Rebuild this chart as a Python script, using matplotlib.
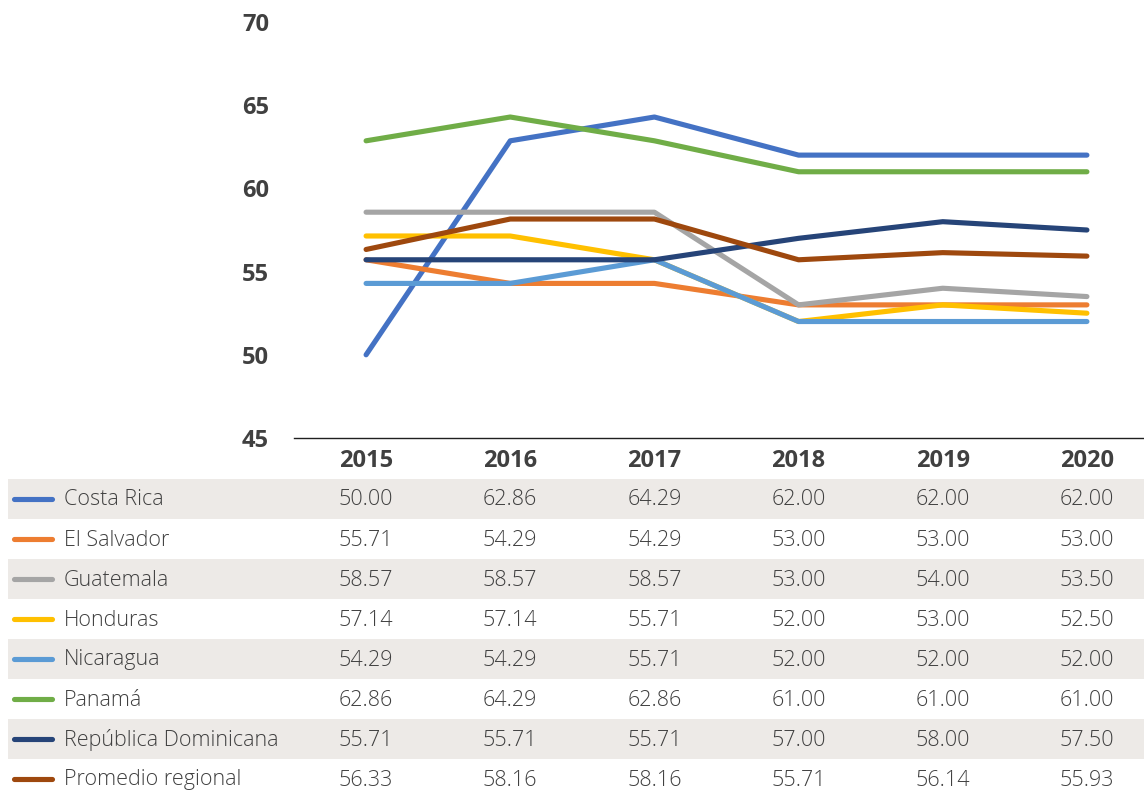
import matplotlib
matplotlib.use("Agg")
import matplotlib.pyplot as plt
from matplotlib.lines import Line2D
from matplotlib.patches import Rectangle
import matplotlib.transforms as mtransforms

plt.rcParams['font.family'] = ['Open Sans', 'DejaVu Sans']

years = ["2015", "2016", "2017", "2018", "2019", "2020"]
countries = ["Costa Rica", "El Salvador", "Guatemala", "Honduras", "Nicaragua",
             "Panamá", "República Dominicana", "Promedio regional"]
costa_rica = [50.00, 62.86, 64.29, 62.00, 62.00, 62.00]
el_salvador = [55.71, 54.29, 54.29, 53.00, 53.00, 53.00]
guatemala = [58.57, 58.57, 58.57, 53.00, 54.00, 53.50]
honduras = [57.14, 57.14, 55.71, 52.00, 53.00, 52.50]
nicaragua = [54.29, 54.29, 55.71, 52.00, 52.00, 52.00]
panama = [62.86, 64.29, 62.86, 61.00, 61.00, 61.00]
rep_dominicana = [55.71, 55.71, 55.71, 57.00, 58.00, 57.50]
promedio = [56.33, 58.16, 58.16, 55.71, 56.14, 55.93]
series = [costa_rica, el_salvador, guatemala, honduras, nicaragua,
          panama, rep_dominicana, promedio]
colors = ["#4472C4", "#ED7D31", "#A5A5A5", "#FFC000", "#5B9BD5",
          "#70AD47", "#264478", "#9E480E"]
yticks = [45, 50, 55, 60, 65, 70]

W, H = 1144, 807
fig = plt.figure(figsize=(W / 100, H / 100), dpi=100)
ax = fig.add_axes([294 / W, 1 - 438 / H, 865 / W, 416 / H])

x = list(range(len(years)))
for vals, c in zip(series, colors):
    ax.plot(x, vals, color=c, lw=3.7, solid_capstyle='round', solid_joinstyle='round')

ax.set_xlim(-0.5, len(years) - 0.5)
ax.set_ylim(45, 70)
ax.set_yticks(yticks)
ax.set_yticklabels([str(t) for t in yticks], fontsize=17, fontweight='bold', color='#404040')
ax.tick_params(axis='y', length=0, pad=18)
ax.set_xticks([])
for s in ['top', 'right', 'left']:
    ax.spines[s].set_visible(False)
ax.spines['bottom'].set_color('#202020')
ax.spines['bottom'].set_linewidth(1.0)
ax.patch.set_alpha(0)

# table
trans = mtransforms.blended_transform_factory(ax.transData, fig.transFigure)
def fy(px):
    return 1 - px / H

for i, yr in enumerate(years):
    fig.text(i, fy(461), yr, transform=trans, ha='center', va='center',
             fontsize=17, fontweight='bold', color='#404040')

row_h = 40
for r, (name, vals, c) in enumerate(zip(countries, series, colors)):
    yc = 499 + r * row_h
    if r % 2 == 0:
        fig.patches.append(Rectangle((8 / W, fy(yc + row_h / 2)), 1 - 8 / W, row_h / H,
                                     transform=fig.transFigure, facecolor='#EDEAE7',
                                     edgecolor='none', zorder=0))
    fig.lines.append(Line2D([14 / W, 52 / W], [fy(yc), fy(yc)], transform=fig.transFigure,
                            color=c, lw=3.7, solid_capstyle='round'))
    fig.text(64 / W, fy(yc + 1), name, ha='left', va='center', fontsize=15.5,
             fontweight='light', color='#404040')
    for i, v in enumerate(vals):
        fig.text(i, fy(yc + 1), f"{v:.2f}", transform=trans, ha='center', va='center',
                 fontsize=15.5, fontweight='light', color='#404040')

fig.savefig("out.png", dpi=100)
